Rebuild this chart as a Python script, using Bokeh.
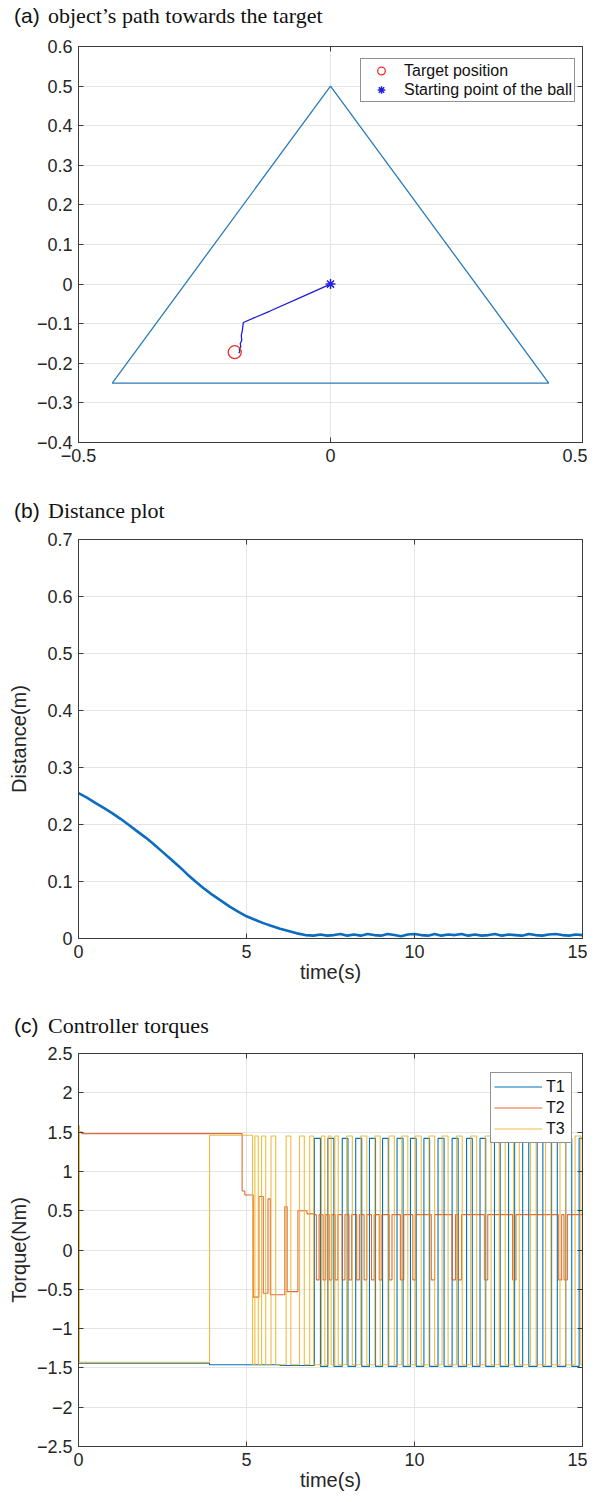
from bokeh.plotting import figure
from bokeh.models import (LinearAxis, FixedTicker, CustomJSTickFormatter,
                          Legend, LegendItem, Range1d, Div)
from bokeh.layouts import column
from bokeh.embed import file_html
from bokeh.resources import INLINE

# ---------------- data ----------------
# (a) workspace triangle, ball path, target and start
tri_x = [0.0, -0.433, 0.433, 0.0]
tri_y = [0.5, -0.25, -0.25, 0.5]
path_x = [0.0, -0.06, -0.12, -0.173, -0.175, -0.177, -0.176, -0.179, -0.178, -0.181, -0.180, -0.182]
path_y = [0.0, -0.034, -0.068, -0.097, -0.118, -0.130, -0.142, -0.150, -0.158, -0.164, -0.170, -0.1745]
target_x = [-0.190]
target_y = [-0.172]
start_x = [0.0]
start_y = [0.0]

# (b) distance to target
dist_t = [0.0, 0.25, 0.5, 0.75, 1.0, 1.25, 1.5, 1.75, 2.0, 2.25, 2.5, 2.75, 3.0, 3.25,
          3.5, 3.75, 4.0, 4.25, 4.5, 4.75, 5.0, 5.25, 5.5, 5.75, 6.0, 6.25, 6.5, 6.75,
          7.0, 7.2, 7.4, 7.6, 7.8, 8.0, 8.2, 8.4, 8.6, 8.8, 9.0, 9.2, 9.4, 9.6, 9.8,
          10.0, 10.2, 10.4, 10.6, 10.8, 11.0, 11.2, 11.4, 11.6, 11.8, 12.0, 12.2, 12.4,
          12.6, 12.8, 13.0, 13.2, 13.4, 13.6, 13.8, 14.0, 14.2, 14.4, 14.6, 14.8, 15.0]
dist_d = [0.255, 0.247, 0.238, 0.229, 0.220, 0.210, 0.199, 0.188, 0.177, 0.165, 0.152,
          0.139, 0.126, 0.112, 0.099, 0.087, 0.076, 0.066, 0.056, 0.047, 0.039, 0.033,
          0.027, 0.022, 0.017, 0.013, 0.009, 0.006,
          0.005, 0.007, 0.005, 0.006, 0.008, 0.005, 0.007, 0.005, 0.008, 0.006, 0.005,
          0.008, 0.006, 0.004, 0.007, 0.008, 0.006, 0.005, 0.008, 0.005, 0.007, 0.006,
          0.008, 0.005, 0.007, 0.005, 0.006, 0.008, 0.005, 0.007, 0.006, 0.005, 0.008,
          0.006, 0.005, 0.007, 0.008, 0.006, 0.005, 0.007, 0.006]

# (c) controller torques: samples before the switching regime + switching instants
T1_pre_t = [0.0, 3.9, 6.0]
T1_pre_v = [-1.44, -1.46, -1.47]
T1_hi, T1_lo = 1.42, -1.48
T1_edges = [7.02, 7.20, 7.42, 7.60, 7.85, 8.02, 8.25, 8.43, 8.66, 8.84, 9.05, 9.22, 9.48,
            9.66, 9.88, 10.05, 10.28, 10.45, 10.70, 10.88, 11.12, 11.30, 11.55, 11.72,
            11.95, 12.12, 12.38, 12.55, 12.80, 12.98, 13.22, 13.40, 13.65, 13.82, 14.08,
            14.25, 14.50, 14.68, 14.90]

T2_t = [0.0, 0.1, 4.87, 4.95, 5.20, 5.37, 5.50, 5.64, 5.71, 6.14, 6.21, 6.53, 6.80, 7.0]
T2_v = [1.50, 1.48, 0.75, 0.70, -0.60, 0.68, -0.55, 0.65, -0.57, 0.55, -0.53, 0.50, 0.46, 0.45]
T2_hi, T2_lo = 0.45, -0.38
T2_edges = [7.08, 7.16, 7.28, 7.36, 7.46, 7.54, 7.64, 7.72, 7.85, 7.93, 8.05, 8.13, 8.28,
            8.36, 8.50, 8.58, 8.72, 8.80, 8.95, 9.03, 9.25, 9.33, 9.58, 9.68, 9.95, 10.03,
            10.50, 10.60, 11.12, 11.22, 11.30, 11.40, 12.08, 12.18, 12.92, 13.02, 14.28,
            14.38, 14.45, 14.55]

T3_pre_t = [0.0, 0.03, 3.9]
T3_pre_v = [1.58, -1.43, 1.46]
T3_hi, T3_lo = 1.45, -1.46
T3_edges = [5.18, 5.25, 5.35, 5.45, 5.57, 5.73, 5.87, 6.18, 6.32, 6.58, 6.72, 6.88, 7.00,
            7.23, 7.33, 7.43, 7.52, 7.63, 7.73, 7.98, 8.15, 8.40, 8.58, 8.82, 8.98, 9.24,
            9.40, 9.62, 9.80, 10.02, 10.20, 10.43, 10.60, 10.82, 11.00, 11.25, 11.42,
            11.67, 11.85, 12.10, 12.28, 12.52, 12.70, 12.95, 13.12, 13.45, 13.62, 13.90,
            14.06, 14.33, 14.50, 14.78, 14.95]

# ---------------- helpers ----------------
FONT = "Liberation Sans"
SERIF = "Liberation Serif"
AX = "#3c3c3c"
TXT = "#262626"
GRID = "#e4e4e4"
W = 587
LEFT = 78
RIGHT = 5
TOP = 12

fmt = CustomJSTickFormatter(code="""
var s = (Math.round(tick*10)/10).toString();
return s.replace('-', '\\u2212');
""")
blank = CustomJSTickFormatter(code="return '';")


def switching(pre_t, pre_v, edges, first_level, second_level, t_end=15.0):
    t = list(pre_t)
    v = list(pre_v)
    levels = [first_level, second_level]
    for i, e in enumerate(edges):
        t.append(e)
        v.append(levels[i % 2])
    t.append(t_end)
    v.append(v[-1])
    return t, v


def header(tag, text, h, base):
    html = (
        f'<div style="position:relative;width:{W}px;height:{h}px;margin:0;padding:0;">'
        f'<span style="position:absolute;left:14px;bottom:{base - 3}px;'
        f"font-family:'{FONT}';font-size:21px;line-height:21px;color:#111;"
        f'white-space:nowrap;">{tag}</span>'
        f'<span style="position:absolute;left:48px;bottom:{base - 4}px;'
        f"font-family:'{SERIF}';font-size:22px;line-height:22px;color:#111;"
        f'white-space:nowrap;">{text}</span></div>'
    )
    return Div(text=html, width=W, height=h, margin=(0, 0, 0, 0))


def make_fig(h, bottom, xr, yr, xt, yt, xlabel=None, ylabel=None, label_standoff=10):
    p = figure(width=W, height=h, output_backend="svg", toolbar_location=None,
               x_range=Range1d(*xr), y_range=Range1d(*yr),
               min_border_left=LEFT, min_border_right=RIGHT, min_border_top=TOP,
               min_border_bottom=bottom)
    p.background_fill_color = "white"
    p.border_fill_color = "white"
    p.outline_line_color = AX
    p.outline_line_width = 1
    for ax in (p.xaxis[0], p.yaxis[0]):
        ax.major_tick_in = 5
        ax.major_tick_out = 0
        ax.minor_tick_line_color = None
        ax.axis_line_color = AX
        ax.major_tick_line_color = AX
        ax.major_label_text_font = FONT
        ax.major_label_text_font_size = "18px"
        ax.major_label_text_color = TXT
        ax.formatter = fmt
        ax.axis_label_text_font = FONT
        ax.axis_label_text_font_size = "20px"
        ax.axis_label_text_font_style = "normal"
        ax.axis_label_text_color = TXT
    p.xaxis[0].ticker = FixedTicker(ticks=xt)
    p.yaxis[0].ticker = FixedTicker(ticks=yt)
    p.xgrid[0].ticker = FixedTicker(ticks=xt)
    p.ygrid[0].ticker = FixedTicker(ticks=yt)
    p.xaxis[0].major_label_standoff = 6
    p.yaxis[0].major_label_standoff = 6
    if xlabel:
        p.xaxis[0].axis_label = xlabel
        p.xaxis[0].axis_label_standoff = 0
    if ylabel:
        p.yaxis[0].axis_label = ylabel
        p.yaxis[0].axis_label_standoff = label_standoff
    p.grid.grid_line_color = GRID
    p.grid.grid_line_width = 1
    # mirrored ticks on top and right (box on)
    for side, tk in (("right", yt), ("above", xt)):
        a = LinearAxis(ticker=FixedTicker(ticks=tk), major_tick_in=5, major_tick_out=0,
                       minor_tick_line_color=None, axis_line_color=AX,
                       major_tick_line_color=AX, formatter=blank,
                       major_label_text_color=None, major_label_standoff=0)
        p.add_layout(a, side)
    return p


# ---------------- (a) ----------------
ha = header("(a)", "object\u2019s path towards the target", 34, 11)
ya = [-0.4, -0.3, -0.2, -0.1, 0.0, 0.1, 0.2, 0.3, 0.4, 0.5, 0.6]
pa = make_fig(461, 53, (-0.5, 0.5), (-0.4, 0.6), [-0.5, 0.0, 0.5], ya)
pa.line(tri_x, tri_y, line_color="#2b7bb9", line_width=1.3)
pa.line(path_x, path_y, line_color="#1f1fd6", line_width=1.3)
r_target = pa.scatter(target_x, target_y, marker="circle", size=13, fill_color=None,
                      line_color="#e8322b", line_width=1.3)
r_start = pa.scatter(start_x, start_y, marker="asterisk", size=10, line_color="#2020e0",
                     line_width=1.5)
leg_a = Legend(items=[LegendItem(label="Target position", renderers=[r_target]),
                      LegendItem(label="Starting point of the ball", renderers=[r_start])],
               location=(282, 340), padding=2, spacing=0, margin=0,
               glyph_width=36, glyph_height=19, label_height=19, label_standoff=5,
               label_width=166, label_text_font=FONT, label_text_font_size="16px",
               label_text_color="#111111", border_line_color="#262626",
               border_line_width=1, background_fill_color="white",
               background_fill_alpha=1.0)
pa.add_layout(leg_a)

# ---------------- (b) ----------------
hb = header("(b)", "Distance plot", 32, 9)
yb = [0.0, 0.1, 0.2, 0.3, 0.4, 0.5, 0.6, 0.7]
pb = make_fig(481, 70, (0, 15), (0, 0.7), [0, 5, 10, 15], yb,
              xlabel="time(s)", ylabel="Distance(m)", label_standoff=14)
pb.line(dist_t, dist_d, line_color="#0b6cc0", line_width=2.6)

# ---------------- (c) ----------------
hc = header("(c)", "Controller torques", 33, 8)
yc = [-2.5, -2.0, -1.5, -1.0, -0.5, 0.0, 0.5, 1.0, 1.5, 2.0, 2.5]
pc = make_fig(453, 48, (0, 15), (-2.5, 2.5), [0, 5, 10, 15], yc,
              xlabel="time(s)", ylabel="Torque(Nm)", label_standoff=4)
t1x, t1y = switching(T1_pre_t, T1_pre_v, T1_edges, T1_hi, T1_lo)
t2x, t2y = switching(T2_t, T2_v, T2_edges, T2_lo, T2_hi)
t3x, t3y = switching(T3_pre_t, T3_pre_v, T3_edges, T3_lo, T3_hi)
r1 = pc.step(t1x, t1y, mode="after", line_color="#0072BD", line_width=1.1)
r2 = pc.step(t2x, t2y, mode="after", line_color="#D95319", line_width=1.1, line_alpha=0.85)
r3 = pc.step(t3x, t3y, mode="after", line_color="#EDB120", line_width=1.1, line_alpha=0.85)
leg_c = Legend(items=[LegendItem(label="T1", renderers=[r1]),
                      LegendItem(label="T2", renderers=[r2]),
                      LegendItem(label="T3", renderers=[r3])],
               location=(412, 303), padding=3, spacing=0, margin=0,
               glyph_width=48, glyph_height=21, label_height=21, label_standoff=4,
               label_width=22, label_text_font=FONT, label_text_font_size="16px",
               label_text_color="#111111", border_line_color="#262626",
               border_line_width=1.2, background_fill_color="white",
               background_fill_alpha=1.0)
pc.add_layout(leg_c)

layout = column(ha, pa, hb, pb, hc, pc, spacing=0)
open("out.html", "w").write(file_html(layout, INLINE))
